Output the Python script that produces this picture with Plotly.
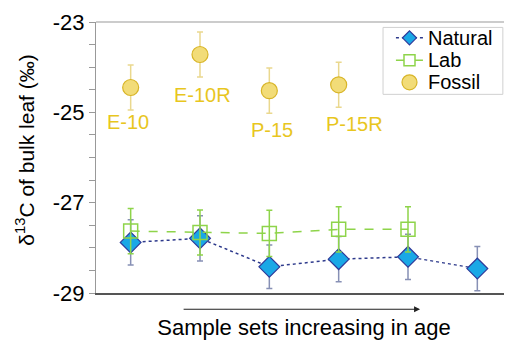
import plotly.graph_objects as go

x_nat = [1, 2, 3, 4, 5, 6]
natural = [-27.88, -27.79, -28.42, -28.25, -28.20, -28.46]
natural_err = [0.5, 0.5, 0.48, 0.5, 0.5, 0.49]

x_lab = [1, 2, 3, 4, 5]
lab = [-27.63, -27.66, -27.68, -27.59, -27.59]
lab_err = [0.5, 0.5, 0.51, 0.5, 0.5]

x_fos = [1, 2, 3, 4]
fossil = [-24.45, -23.72, -24.52, -24.39]
fossil_err = [0.5, 0.5, 0.5, 0.5]
fossil_labels = ["E-10", "E-10R", "P-15", "P-15R"]
label_x = [0.96, 2.03, 3.04, 4.23]
label_y = [-25.21, -24.62, -25.38, -25.26]

y_ticks = [-23, -25, -27, -29]

FONT = "Liberation Sans, Arial, sans-serif"
GOLD = "#E8C61E"
NAVY = "#2E3A8C"
BLUE = "#1AA8E6"
GREEN = "#8ED44A"
CFILL = "#F2DC78"
CEDGE = "#D8B528"

fig = go.Figure()
fig.add_trace(go.Scatter(
    x=x_nat, y=natural, name="Natural", mode="lines+markers",
    line=dict(color=NAVY, width=1.5, dash="dot"),
    marker=dict(symbol="diamond", size=16, color=BLUE,
                line=dict(color="#2E3A9A", width=1.2)),
    error_y=dict(type="data", array=natural_err, color="#8790B5",
                 thickness=1.5, width=3),
))
fig.add_trace(go.Scatter(
    x=x_lab, y=lab, name="Lab", mode="lines+markers",
    line=dict(color=GREEN, width=1.5, dash="dash"),
    marker=dict(symbol="square-open", size=14, color=GREEN,
                line=dict(color=GREEN, width=1.5)),
    error_y=dict(type="data", array=lab_err, color=GREEN,
                 thickness=1.5, width=3),
))
fig.add_trace(go.Scatter(
    x=x_fos, y=fossil, name="Fossil", mode="markers",
    marker=dict(symbol="circle", size=16, color=CFILL,
                line=dict(color=CEDGE, width=1.2)),
    error_y=dict(type="data", array=fossil_err, color="#EAD88E",
                 thickness=1.5, width=3),
))

for xi, yi, t in zip(label_x, label_y, fossil_labels):
    fig.add_annotation(x=xi, y=yi, text=t, showarrow=False,
                       font=dict(family=FONT, size=20, color=GOLD),
                       xanchor="center", yanchor="middle")

D = dict(xref="x domain", yref="y domain")

# y-axis title
fig.add_annotation(x=-0.1695, y=0.527, text="δ<sup>13</sup>C of bulk leaf (‰)",
                   textangle=-90, showarrow=False, xanchor="center", yanchor="middle",
                   font=dict(family=FONT, size=21, color="black"), **D)

# arrow under the x axis
fig.add_annotation(x=0.779, y=-0.06, ax=0.207, ay=-0.06,
                   axref="x domain", ayref="y domain",
                   text="", showarrow=True, arrowhead=2, arrowsize=1,
                   arrowwidth=1.2, arrowcolor="#222222", **D)

# top frame line
fig.add_shape(type="line", x0=0, x1=1, y0=1, y1=1,
              line=dict(color="#999999", width=1.2), **D)

# legend (drawn by hand for a compact box)
fig.add_shape(type="rect", x0=0.690, x1=0.978, y0=0.733, y1=0.980,
              line=dict(color="#D0D0D0", width=1), fillcolor="white", **D)
leg_names = ["Natural", "Lab", "Fossil"]
leg_y = [0.9417, 0.8587, 0.7775]
sx = 0.7536
fig.add_shape(type="line", x0=0.721, x1=0.786, y0=leg_y[0], y1=leg_y[0],
              line=dict(color=NAVY, width=1.5, dash="dot"), **D)
fig.add_shape(type="line", x0=0.721, x1=0.786, y0=leg_y[1], y1=leg_y[1],
              line=dict(color=GREEN, width=1.5, dash="dash"), **D)
fig.add_shape(type="path", path="M 0 7 L 7 0 L 0 -7 L -7 0 Z",
              xsizemode="pixel", ysizemode="pixel", xanchor=sx, yanchor=leg_y[0],
              fillcolor=BLUE, line=dict(color="#2E3A9A", width=1.2), **D)
fig.add_shape(type="rect", x0=-5.5, x1=5.5, y0=-5.5, y1=5.5,
              xsizemode="pixel", ysizemode="pixel", xanchor=sx, yanchor=leg_y[1],
              fillcolor="white", line=dict(color=GREEN, width=1.5), **D)
fig.add_shape(type="circle", x0=-7.5, x1=7.5, y0=-7.5, y1=7.5,
              xsizemode="pixel", ysizemode="pixel", xanchor=sx, yanchor=leg_y[2],
              fillcolor=CFILL, line=dict(color=CEDGE, width=1.2), **D)
for nm, ly in zip(leg_names, leg_y):
    fig.add_annotation(x=0.793, y=ly, text=nm, showarrow=False,
                       xanchor="left", yanchor="middle",
                       font=dict(family=FONT, size=20, color="black"), **D)

fig.update_layout(
    width=504, height=332,
    margin=dict(l=88, r=0, t=14, b=47, autoexpand=False),
    paper_bgcolor="white", plot_bgcolor="white",
    font=dict(family=FONT, color="black"),
    showlegend=False,
    xaxis=dict(range=[0.5, 6.5], showticklabels=False, ticks="",
               showgrid=False, zeroline=False, showline=True,
               linecolor="#555555", linewidth=1.5, automargin=False,
               title=dict(text="Sample sets increasing in age",
                          font=dict(family=FONT, size=22, color="black"),
                          standoff=26)),
    yaxis=dict(range=[-29, -23], tickmode="array", tickvals=y_ticks,
               ticktext=[str(v) for v in y_ticks],
               ticks="outside", ticklen=6, tickcolor="#999999",
               minor=dict(dtick=0.5, ticks="outside", ticklen=6,
                          tickcolor="#999999", showgrid=False),
               showgrid=False, zeroline=False, showline=True,
               linecolor="#999999", linewidth=1.2, automargin=False,
               tickfont=dict(family=FONT, size=22, color="black")),
)

fig.write_html("out.html")
